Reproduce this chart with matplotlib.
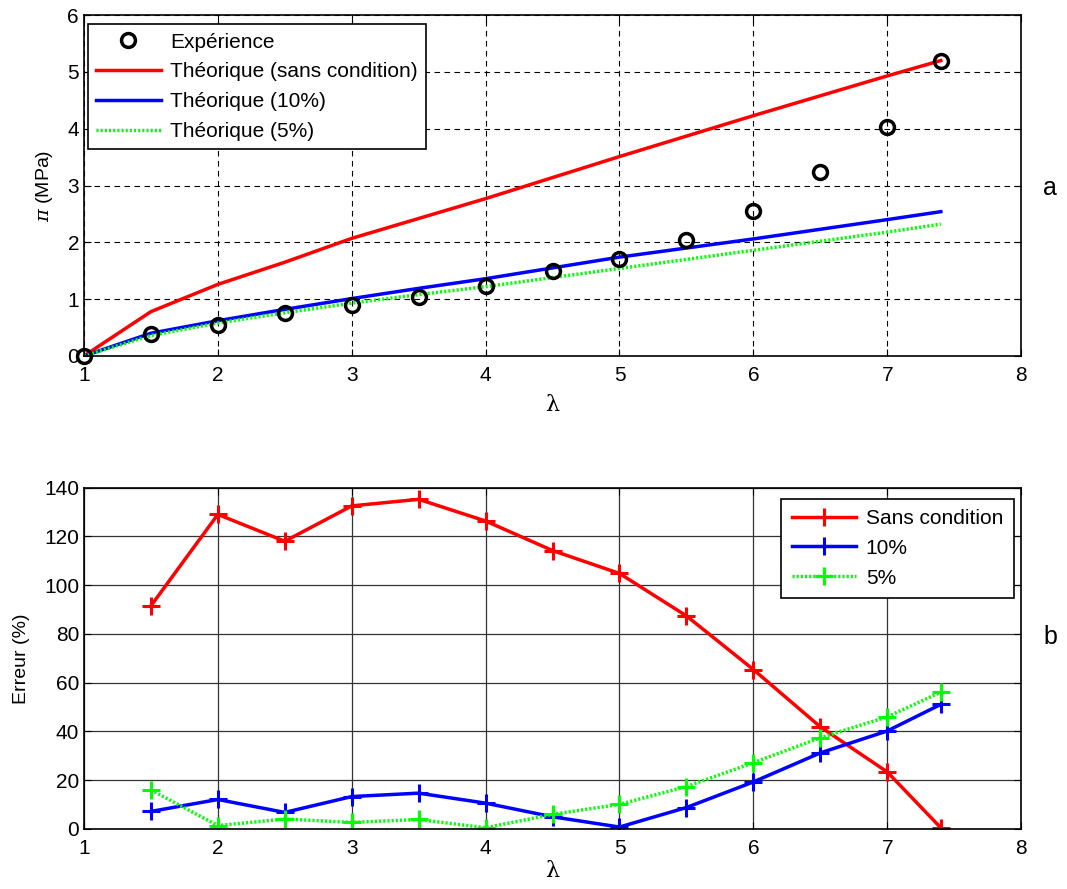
import matplotlib
matplotlib.use("Agg")
import matplotlib.pyplot as plt

plt.rcParams['font.family'] = ['Liberation Sans', 'DejaVu Sans']
plt.rcParams['mathtext.fontset'] = 'dejavuserif'

# ---- data (top panel) ----
lam = [1, 1.5, 2, 2.5, 3, 3.5, 4, 4.5, 5, 5.5, 6, 6.5, 7, 7.4]
exp_pi = [0.0, 0.39, 0.54, 0.76, 0.89, 1.03, 1.23, 1.49, 1.71, 2.05, 2.55, 3.23, 4.03, 5.20]
th_sans = [0.0, 0.78, 1.26, 1.65, 2.07, 2.42, 2.77, 3.14, 3.51, 3.87, 4.23, 4.58, 4.93, 5.20]
th_10 = [0.0, 0.40, 0.62, 0.82, 1.01, 1.19, 1.36, 1.55, 1.74, 1.90, 2.06, 2.23, 2.40, 2.54]
th_5 = [0.0, 0.36, 0.58, 0.76, 0.93, 1.08, 1.22, 1.38, 1.54, 1.70, 1.86, 2.02, 2.18, 2.32]

# ---- data (bottom panel) ----
lam_err = [1.5, 2, 2.5, 3, 3.5, 4, 4.5, 5, 5.5, 6, 6.5, 7, 7.4]
err_sans = [91.5, 129.0, 118.0, 132.5, 135.2, 126.3, 114.2, 104.8, 87.4, 65.4, 41.9, 23.4, 0.5]
err_10 = [7.2, 12.1, 6.8, 13.3, 14.7, 10.6, 5.0, 0.8, 8.8, 19.3, 31.2, 40.2, 51.1]
err_5 = [16.0, 1.4, 4.1, 2.7, 3.9, 0.5, 6.0, 10.1, 17.4, 27.2, 37.4, 46.0, 56.1]

fig = plt.figure(figsize=(10.67, 8.89), dpi=100)

FS = 15
DOTS = (0, (0.6, 0.6))

# ---------- top ----------
ax1 = fig.add_axes([0.0787, 0.5996, 0.8783, 0.3834])
ax1.plot(lam, exp_pi, 'o', mfc='none', mec='black', ms=10, mew=2.5, label='Expérience',
         zorder=5, clip_on=False)
ax1.plot(lam, th_sans, '-', color='#ff0000', lw=2.5, label='Théorique (sans condition)')
ax1.plot(lam, th_10, '-', color='#0000ff', lw=2.5, label='Théorique (10%)')
ax1.plot(lam, th_5, linestyle=DOTS, color='#00ff00', lw=2.5, label='Théorique (5%)')
ax1.set_xlim(1, 8)
ax1.set_ylim(0, 6)
ax1.set_xticks(range(1, 9))
ax1.set_yticks(range(0, 7))
ax1.grid(True, linestyle=(0, (5, 4)), color='black', linewidth=0.8)
ax1.tick_params(direction='in', top=True, right=True, labelsize=FS, length=5)
ax1.tick_params(axis='x', pad=7)
ax1.set_xlabel('λ', fontsize=FS + 1, family='DejaVu Serif', labelpad=7)
ax1.set_ylabel(r'$\pi$ (MPa)', fontsize=FS - 1, labelpad=9)
for s in ax1.spines.values():
    s.set_linewidth(1.2)
leg1 = ax1.legend(loc='upper left', fontsize=FS, frameon=True, fancybox=False,
                  edgecolor='black', framealpha=1, handlelength=3.1,
                  borderaxespad=0, labelspacing=0.52, handletextpad=0.45,
                  bbox_to_anchor=(0.004, 0.973))
leg1.get_frame().set_linewidth(1.2)
leg1.set_zorder(10)
fig.text(0.984, 0.788, 'a', fontsize=FS + 3, ha='center', va='center')

# ---------- bottom ----------
ax2 = fig.add_axes([0.0787, 0.0675, 0.8783, 0.384])
ax2.plot(lam_err, err_sans, '-+', color='#ff0000', lw=2.5, ms=13, mew=2.2, label='Sans condition')
ax2.plot(lam_err, err_10, '-+', color='#0000ff', lw=2.5, ms=13, mew=2.2, label='10%')
ax2.plot(lam_err, err_5, marker='+', linestyle=DOTS, color='#00ff00', lw=2.5, ms=13, mew=2.2, label='5%')
ax2.set_xlim(1, 8)
ax2.set_ylim(0, 140)
ax2.set_xticks(range(1, 9))
ax2.set_yticks(range(0, 141, 20))
ax2.grid(True, linestyle='-', color='#333333', linewidth=0.9)
ax2.tick_params(direction='in', top=True, right=True, labelsize=FS, length=5)
ax2.tick_params(axis='x', pad=7)
ax2.set_xlabel('λ', fontsize=FS + 1, family='DejaVu Serif', labelpad=2)
ax2.set_ylabel('Erreur (%)', fontsize=FS - 1, labelpad=10)
for s in ax2.spines.values():
    s.set_linewidth(1.2)
leg2 = ax2.legend(loc='upper right', fontsize=FS, frameon=True, fancybox=False,
                  edgecolor='black', framealpha=1, handlelength=3.1,
                  borderaxespad=0, labelspacing=0.52, handletextpad=0.45,
                  borderpad=0.5, bbox_to_anchor=(0.992, 0.968))
leg2.get_frame().set_linewidth(1.2)
fig.text(0.984, 0.283, 'b', fontsize=FS + 3, ha='center', va='center')

fig.savefig('out.png', dpi=100)
